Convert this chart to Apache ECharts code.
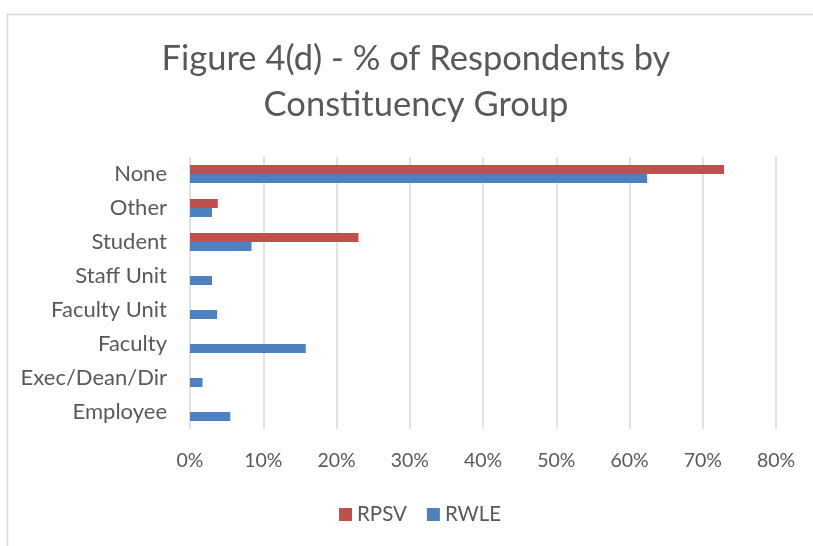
<!DOCTYPE html>
<html><head><meta charset="utf-8">
<script src="https://cdn.jsdelivr.net/npm/echarts@6/dist/echarts.min.js"></script>
<style>html,body{margin:0;padding:0;background:#fff}#c{width:813px;height:546px}</style>
</head><body><div id="c"></div>
<script>
const categories = ['Employee','Exec/Dean/Dir','Faculty','Faculty Unit','Staff Unit','Student','Other','None'];
const rpsv = [0,0,0,0,0,23.0,3.8,72.9];
const rwle = [5.5,1.7,15.8,3.7,3.0,8.4,3.0,62.4];
const xTicks = [0,10,20,30,40,50,60,70,80];
const titleText = 'Figure 4(d) - % of Respondents by\nConstituency Group';

const chart = echarts.init(document.getElementById('c'), null, {renderer:'canvas'});
const font = 'Lato';
chart.setOption({
  animation:false,
  backgroundColor:'#fff',
  graphic:[{type:'rect',left:5,top:12,shape:{width:900,height:600},style:{fill:'none',stroke:'#d9d9d9',lineWidth:1.5},silent:true,z:-1}],
  title:{text:titleText,left:411,textAlign:'center',top:31,
    textStyle:{fontFamily:font,fontSize:34.5,fontWeight:'normal',color:'#595959',lineHeight:46}},
  legend:{data:['RPSV','RWLE'],bottom:16,left:334,itemWidth:13,itemHeight:13,itemGap:20,icon:'rect',
    textStyle:{fontFamily:font,fontSize:20.5,color:'#595959'}},
  grid:{left:190,right:813-776,top:157,bottom:546-429,containLabel:false},
  xAxis:{type:'value',min:xTicks[0],max:xTicks[xTicks.length-1],interval:10,
    axisLabel:{formatter:'{value}%',fontFamily:font,fontSize:19.5,color:'#595959',margin:22},
    axisLine:{show:false},axisTick:{show:false},
    splitLine:{lineStyle:{color:'#d9d9d9',width:1.5}}},
  yAxis:{type:'category',data:categories,
    axisLabel:{fontFamily:font,fontSize:22,color:'#595959',margin:23},
    axisLine:{show:false},axisTick:{show:false}},
  series:[
    {name:'RPSV',type:'bar',data:rpsv,itemStyle:{color:'#C0504D'},barGap:'0%',barCategoryGap:'47%'},
    {name:'RWLE',type:'bar',data:rwle,itemStyle:{color:'#4F81BD'},barGap:'0%',barCategoryGap:'47%'}
  ]
});
</script></body></html>
